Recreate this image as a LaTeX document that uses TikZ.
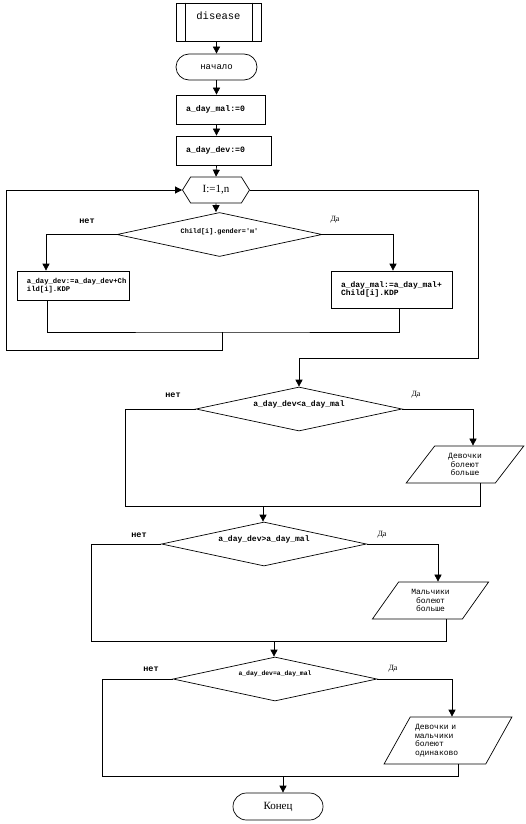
\documentclass[tikz,border=0pt]{standalone}
\usepackage{fontspec}
\setmainfont{Liberation Serif}
\setmonofont{Liberation Mono}
\usetikzlibrary{arrows.meta, shapes.geometric, shapes.symbols}

\begin{document}
\begin{tikzpicture}[
  x=1pt, y=-1pt,
  every node/.style = {inner sep=0pt},
  line/.style = {line width=0.7pt, black},
  arr/.style  = {line, -{Triangle[length=7pt, width=7pt]}},
  code/.style = {font=\ttfamily\bfseries\fontsize{#1}{8}\selectfont},
  subbox/.style  = {rectangle, draw, line width=0.7pt,
                    minimum width=85pt, minimum height=38pt},
  termbox/.style = {rectangle, rounded corners=13pt, draw, line width=0.7pt},
  procbox/.style = {rectangle, draw, line width=0.7pt,
                    inner xsep=10pt, align=left},
  loopbox/.style = {signal, signal to=west and east, signal pointer angle=116,
                    draw, line width=0.7pt,
                    minimum width=67pt, minimum height=26pt,
                    font=\fontsize{11}{11}\selectfont},
  decision/.style = {diamond, draw, line width=0.7pt,
                     minimum height=44pt},
  iobox/.style = {trapezium, trapezium left angle=55, trapezium right angle=125,
                  trapezium stretches=true, draw, line width=0.7pt,
                  font=\ttfamily\fontsize{8}{8.6}\selectfont},
  nolab/.style  = {font=\ttfamily\bfseries\fontsize{8.5}{8.5}\selectfont},
  yeslab/.style = {font=\fontsize{8}{8}\selectfont},
]
\useasboundingbox (0,0) rectangle (526,824);

%% ── Header ───────────────────────────────────────────────────────────────
\node[subbox] at (218.5, 22) (sub) {};
\draw[line] ([xshift=10pt]sub.north west) -- ([xshift=10pt]sub.south west);
\draw[line] ([xshift=-9pt]sub.north east) -- ([xshift=-9pt]sub.south east);
\node[font=\ttfamily\fontsize{10.5}{10.5}\selectfont]
  at ([yshift=6pt]sub.center) (subname) {disease};

\node[termbox, minimum width=81pt, minimum height=26pt,
      font=\ttfamily\fontsize{9}{9}\selectfont]
  at (216.5, 67) (start) {начало};

\node[procbox, code=8.2, text width=69pt, minimum height=29pt]
  at (220.5, 109.5) (m0) {a\_day\_mal:=0};
\node[procbox, code=8.2, text width=75pt, minimum height=29pt]
  at (223.5, 150.5) (d0) {a\_day\_dev:=0};

%% ── Loop over children ───────────────────────────────────────────────────
\node[loopbox] at (216, 190) (loop) {I:=1,n};

\node[decision, minimum width=205pt] at (219.5, 234.5) (c1) {};
\node[code=6.8] at ([yshift=3pt]c1.center) (c1t) {Child[i].gender='м'};

\node[procbox, code=7.2, text width=92pt, minimum height=29pt]
  at (73, 285.5) (bl) {a\_day\_dev:=a\_day\_dev+Ch\\ild[i].KDP};
\node[procbox, code=8, text width=101pt, minimum height=37pt]
  at (391.5, 289.5) (br) {a\_day\_mal:=a\_day\_mal+\\Child[i].KDP};

\coordinate (j1) at (222, 332);
\coordinate (ex) at (478, 358);

%% ── Comparisons ──────────────────────────────────────────────────────────
\node[decision, minimum width=206pt] at (299, 409) (c2) {};
\node[code=8] at ([yshift=5pt]c2.center) (c2t) {a\_day\_dev<a\_day\_mal};
\node[iobox, minimum width=118pt, minimum height=37pt, align=center]
  at (465, 464.5) (p1) {Девочки\\болеют\\больше};
\coordinate (j2) at (263, 506);

\node[decision, minimum width=205pt] at (264, 544) (c3) {};
\node[code=8] at ([yshift=5pt]c3.center) (c3t) {a\_day\_dev>a\_day\_mal};
\node[iobox, minimum width=117pt, minimum height=37pt, align=center]
  at (430.5, 600.5) (p2) {Мальчики\\болеют\\больше};
\coordinate (j3) at (274, 641);

\node[decision, minimum width=204pt] at (275, 679) (c4) {};
\node[code=6.4] at ([yshift=5pt]c4.center) (c4t) {a\_day\_dev=a\_day\_mal};
\node[iobox, minimum width=128pt, minimum height=47pt,
      text width=66pt, align=left]
  at (448, 740.5) (p3) {Девочки и\\мальчики\\болеют\\одинаково};
\coordinate (j4) at (283, 776);

\node[termbox, rounded corners=13.5pt, minimum width=90pt, minimum height=27pt,
      font=\fontsize{11}{11}\selectfont]
  at (278, 806.5) (stop) {Конец};

%% ── Branch labels ────────────────────────────────────────────────────────
\node[nolab]  at (87, 221)  (n1) {нет};
\node[yeslab] at (335, 220) (y1) {Да};
\node[nolab]  at (173, 395) (n2) {нет};
\node[yeslab] at (416, 395) (y2) {Да};
\node[nolab]  at (139, 535) (n3) {нет};
\node[yeslab] at (382, 535) (y3) {Да};
\node[nolab]  at (151, 669) (n4) {нет};
\node[yeslab] at (393, 669) (y4) {Да};

%% ── Main vertical arrows ─────────────────────────────────────────────────
\draw[arr] (start.north |- sub.south) -- (start.north);
\draw[arr] (start) -- (start |- m0.north);
\draw[arr] (start |- m0.south) -- (start |- d0.north);
\draw[arr] (start |- d0.south) -- (loop.north);
\draw[arr] (loop) -- (loop |- c1.north);

%% ── Loop body ────────────────────────────────────────────────────────────
\draw[arr] (c1.west) -| ([xshift=-27pt]bl.north);
\draw[arr] (c1.east) -| ([xshift=1.5pt]br.north);
\draw[line] ([xshift=-26pt]bl.south) |- (j1) -| ([xshift=7.5pt]br.south);
\draw[arr] (j1) -- ++(0,18) -| ([xshift=-176pt]loop.west) -- (loop.west);
\draw[arr] (loop.east) -| (ex) -| (c2.north);

%% ── Result branches ──────────────────────────────────────────────────────
\draw[line] (c2.west) -- ++(-70,0) |- (j2);
\draw[arr]  (c2.east) -| ([xshift=8pt]p1.north);
\draw[line] ([xshift=15pt]p1.south) |- (j2);
\draw[arr]  (j2) -- (j2 |- c3.north);

\draw[line] (c3.west) -- ++(-70,0) |- (j3);
\draw[arr]  (c3.east) -| ([xshift=7.5pt]p2.north);
\draw[line] ([xshift=15.5pt]p2.south) |- (j3);
\draw[arr]  (j3) -- (j3 |- c4.north);

\draw[line] (c4.west) -- ++(-70,0) |- (j4);
\draw[arr]  (c4.east) -| ([xshift=4pt]p3.north);
\draw[line] ([xshift=10pt]p3.south) |- (j4);
\draw[arr]  (j4) -- (j4 |- stop.north);

\end{tikzpicture}
\end{document}
